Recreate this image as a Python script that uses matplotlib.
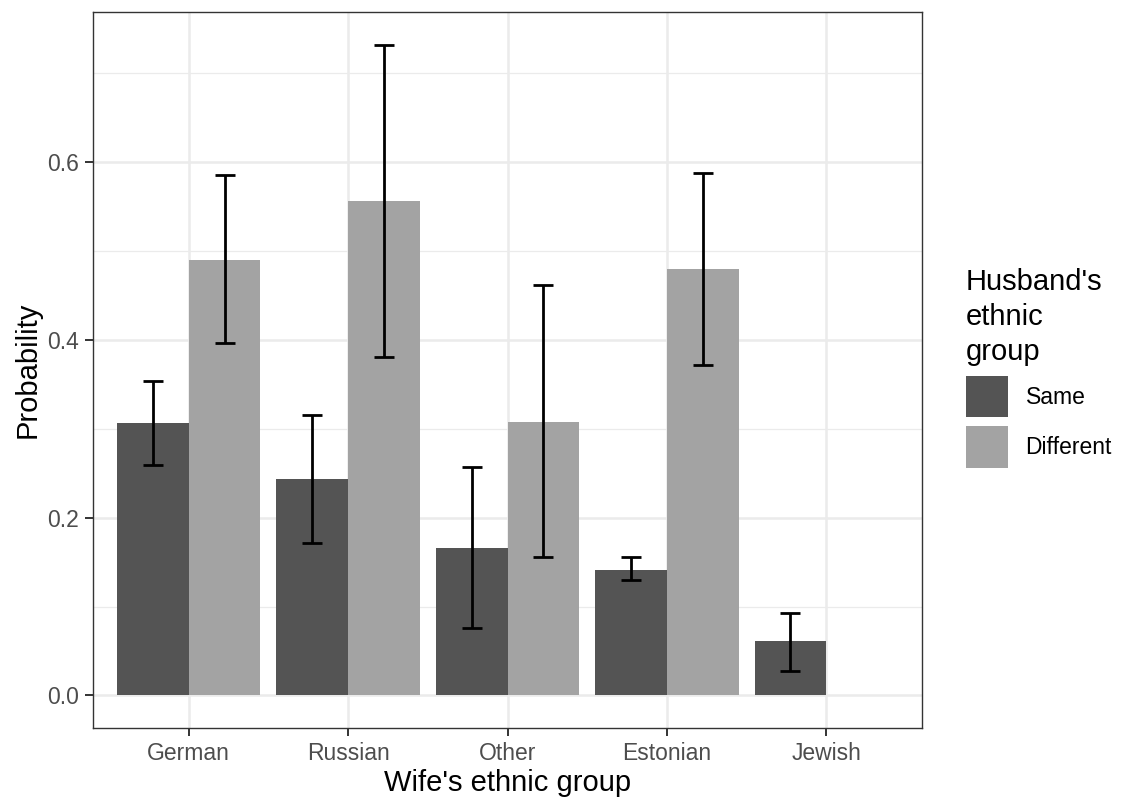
import matplotlib
matplotlib.use("Agg")
from matplotlib import pyplot as plt
from matplotlib.patches import Patch
import numpy as np

plt.rcParams['font.family'] = ['Liberation Sans', 'DejaVu Sans']

# Datos
wife_groups = ['German', 'Russian', 'Other', 'Estonian', 'Jewish']
husband_groups = ['Same', 'Different']
prob_same = [0.306, 0.243, 0.166, 0.141, 0.061]
low_same = [0.259, 0.172, 0.076, 0.130, 0.027]
high_same = [0.354, 0.315, 0.257, 0.156, 0.093]
prob_diff = [0.490, 0.556, 0.307, 0.480, np.nan]
low_diff = [0.396, 0.381, 0.156, 0.372, np.nan]
high_diff = [0.585, 0.732, 0.462, 0.588, np.nan]

colors = ['#545454', '#a3a3a3']

fig = plt.figure(figsize=(11.23, 8.07), dpi=100)
ax = fig.add_axes([93/1123, 1-728/807, 829/1123, 716/807])

x = np.arange(len(wife_groups))
w = 0.45
series = [(prob_same, low_same, high_same), (prob_diff, low_diff, high_diff)]
for i, (p, lo, hi) in enumerate(series):
    xpos = x + (i - 0.5) * w
    p = np.array(p)
    ok = ~np.isnan(p)
    ax.bar(xpos[ok], p[ok], width=w, color=colors[i], zorder=2)
    lo = np.array(lo); hi = np.array(hi)
    ax.errorbar(xpos[ok], (lo[ok] + hi[ok]) / 2, yerr=(hi[ok] - lo[ok]) / 2,
                fmt='none', ecolor='black', elinewidth=2.0, capsize=7.3,
                capthick=2.0, zorder=3)

ax.set_xlim(-0.6, 4.6)
ax.set_ylim(-0.0366, 0.7686)
ax.set_xticks(x)
ax.set_xticklabels(wife_groups)
ax.set_yticks([0.0, 0.2, 0.4, 0.6])
ax.set_yticklabels(['0.0', '0.2', '0.4', '0.6'])
ax.set_yticks([0.1, 0.3, 0.5, 0.7], minor=True)
ax.grid(True, which='major', color='#ebebeb', linewidth=1.8, zorder=0)
ax.grid(True, which='minor', axis='y', color='#ebebeb', linewidth=0.9, zorder=0)
ax.set_axisbelow(True)
for s in ax.spines.values():
    s.set_color('#333333')
    s.set_linewidth(1.0)
ax.tick_params(axis='both', which='major', length=6, width=1.4, color='#333333',
               labelsize=16.5, labelcolor='#4d4d4d', pad=4)
ax.tick_params(axis='y', which='minor', length=0)
ax.set_xlabel("Wife's ethnic group", fontsize=21, labelpad=3)
ax.set_ylabel('Probability', fontsize=21, labelpad=4)

handles = [Patch(facecolor=c, edgecolor='none') for c in colors]
leg = fig.legend(handles, husband_groups, title="Husband's\nethnic\ngroup",
                 loc='upper left', bbox_to_anchor=(966/1123, 1-268/807),
                 frameon=False, fontsize=16.5, title_fontsize=21,
                 borderpad=0, borderaxespad=0,
                 handlelength=1.85, handleheight=2.4, handletextpad=0.75,
                 labelspacing=0.4)
leg._legend_box.align = 'left'
leg._legend_box.sep = 7
leg.get_title().set_linespacing(1.32)

fig.savefig('out.png', dpi=100)
